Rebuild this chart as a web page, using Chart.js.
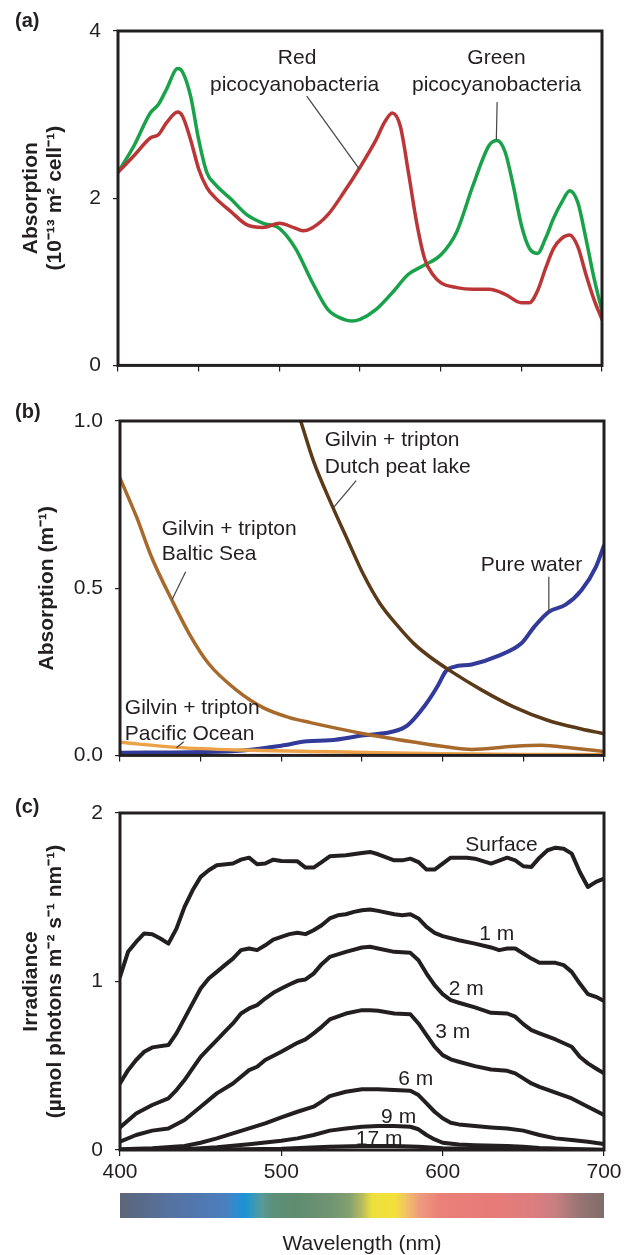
<!DOCTYPE html>
<html>
<head>
<meta charset="utf-8">
<script src="https://cdn.jsdelivr.net/npm/chart.js@4.4.1/dist/chart.umd.min.js"></script>
<style>
  html, body { margin: 0; padding: 0; background: #fff; }
  body { width: 633px; height: 1255px; position: relative; overflow: hidden; font-family: "Liberation Sans", Arial, sans-serif; }
  .panel { position: absolute; left: 0; width: 633px; }
  .tag { position: absolute; left: 15px; font-weight: bold; font-size: 20px; line-height: 20px; color: #231f20; }
</style>
</head>
<body>
<div class="panel" style="top:0px;height:390px"><canvas id="chartA" width="633" height="390"></canvas></div>
<div class="panel" style="top:390px;height:390px"><canvas id="chartB" width="633" height="390"></canvas></div>
<div class="panel" style="top:780px;height:475px"><canvas id="chartC" width="633" height="475"></canvas></div>
<div class="tag" style="top:10px">(a)</div>
<div class="tag" style="top:401px">(b)</div>
<div class="tag" style="top:796px">(c)</div>
<script>
// (a) absorption per cell, 10^-13 m2 cell-1
const greenWl = [400,410,420,425,430,437,440,445,450,455,460,470,480,490,500,510,520,530,540,545,550,560,570,580,590,600,610,620,630,635,640,645,650,655,660,665,670,675,680,685,690,695,700];
const greenAbs = [2.31,2.63,3.02,3.12,3.30,3.55,3.51,3.22,2.70,2.31,2.17,1.99,1.80,1.70,1.64,1.40,1.01,0.67,0.55,0.53,0.55,0.67,0.87,1.09,1.20,1.32,1.60,2.15,2.63,2.69,2.55,2.15,1.68,1.40,1.34,1.52,1.76,1.95,2.09,1.95,1.52,1.05,0.65];
const redWl = [400,410,420,425,430,437,440,445,450,455,460,470,480,490,500,510,515,520,530,540,550,560,565,570,575,580,585,590,595,600,610,620,630,640,650,655,660,665,670,675,680,685,690,695,700];
const redAbs = [2.31,2.51,2.72,2.76,2.90,3.03,2.98,2.70,2.35,2.13,2.01,1.84,1.68,1.65,1.70,1.64,1.61,1.64,1.80,2.07,2.37,2.70,2.90,3.02,2.86,2.31,1.72,1.28,1.09,0.99,0.93,0.91,0.91,0.85,0.75,0.75,0.89,1.16,1.40,1.52,1.56,1.42,1.09,0.79,0.55];

// (b) absorption, m-1
const dutchWl = [512,520,532,541,551,561,572,582,592,605,624,644,665,686,700];
const dutchAbs = [1.00,0.879,0.741,0.645,0.540,0.455,0.388,0.335,0.295,0.252,0.196,0.145,0.105,0.079,0.065];
const balticWl = [400,410,420,432,443,455,472,489,505,518,551,582,603,618,644,661,680,700];
const balticAbs = [0.829,0.716,0.588,0.466,0.363,0.274,0.196,0.142,0.113,0.098,0.065,0.040,0.025,0.018,0.027,0.030,0.022,0.012];
const waterWl = [400,450,476,500,516,530,551,568,578,589,597,602,607,618,634,649,657,666,676,686,695,700];
const waterAbs = [0.008,0.010,0.015,0.029,0.042,0.045,0.060,0.070,0.089,0.149,0.208,0.252,0.265,0.272,0.297,0.336,0.386,0.430,0.450,0.494,0.564,0.628];
const pacificWl = [400,435,476,518,560,600,650,700];
const pacificAbs = [0.039,0.024,0.016,0.012,0.008,0.005,0.003,0.002];

// (c) irradiance at depth, umol photons m-2 s-1 nm-1
const surfWl = [400,405,410,415,420,425,430,435,440,445,450,455,460,470,475,480,485,490,495,500,510,515,520,525,530,540,550,555,560,570,575,580,585,590,595,600,605,615,620,630,640,645,650,655,660,665,670,675,680,685,690,695,700];
const surfIrr = [1.028,1.176,1.235,1.285,1.281,1.255,1.225,1.314,1.443,1.541,1.621,1.660,1.690,1.700,1.723,1.735,1.696,1.700,1.723,1.715,1.713,1.676,1.676,1.709,1.743,1.749,1.763,1.769,1.755,1.719,1.719,1.729,1.709,1.664,1.664,1.700,1.735,1.735,1.729,1.700,1.735,1.719,1.684,1.680,1.735,1.779,1.794,1.788,1.759,1.650,1.561,1.591,1.611];
const m1Wl = [400,405,410,415,420,430,435,440,445,450,455,460,465,470,475,480,485,490,495,500,505,510,515,520,525,530,535,540,545,550,555,560,570,575,580,585,590,595,600,610,620,630,635,640,645,650,655,660,670,675,680,685,690,695,700];
const m1Irr = [0.395,0.474,0.534,0.583,0.609,0.623,0.692,0.781,0.870,0.958,1.018,1.057,1.097,1.136,1.186,1.196,1.186,1.215,1.249,1.265,1.281,1.289,1.281,1.304,1.334,1.374,1.393,1.399,1.413,1.423,1.427,1.419,1.399,1.393,1.399,1.374,1.324,1.289,1.269,1.245,1.225,1.202,1.186,1.196,1.196,1.166,1.136,1.111,1.111,1.097,1.057,0.988,0.925,0.909,0.885];
const m2Wl = [400,410,420,430,435,440,445,450,455,460,465,470,475,480,485,490,495,500,505,510,515,520,525,530,540,550,555,560,570,580,585,590,595,600,605,610,620,630,640,645,650,655,660,670,680,685,690,695,700];
const m2Irr = [0.134,0.217,0.267,0.306,0.356,0.415,0.484,0.553,0.603,0.652,0.702,0.751,0.810,0.840,0.860,0.899,0.933,0.958,0.982,1.004,1.012,1.047,1.103,1.146,1.176,1.202,1.206,1.196,1.176,1.170,1.126,1.047,0.978,0.925,0.889,0.874,0.846,0.814,0.810,0.791,0.747,0.711,0.692,0.656,0.613,0.553,0.514,0.484,0.455];
const m3Wl = [400,410,420,430,440,450,460,470,480,485,490,500,510,515,520,525,530,540,550,555,560,570,580,585,590,595,600,605,610,620,630,640,645,650,655,660,670,680,690,700];
const m3Irr = [0.049,0.089,0.115,0.128,0.178,0.257,0.336,0.395,0.474,0.494,0.534,0.583,0.636,0.656,0.692,0.731,0.775,0.810,0.830,0.830,0.826,0.810,0.806,0.751,0.682,0.613,0.563,0.538,0.524,0.498,0.478,0.470,0.455,0.425,0.395,0.375,0.340,0.306,0.257,0.208];
const m6Wl = [400,420,440,450,460,470,480,490,500,510,520,525,530,540,550,560,570,580,585,590,595,600,605,610,620,630,640,650,660,670,680,690,700];
const m6Irr = [0.004,0.010,0.024,0.043,0.069,0.099,0.128,0.158,0.194,0.227,0.257,0.287,0.320,0.346,0.360,0.360,0.356,0.352,0.326,0.277,0.227,0.188,0.162,0.152,0.142,0.134,0.128,0.115,0.089,0.069,0.059,0.049,0.036];
const m9Wl = [400,440,460,480,500,510,520,530,540,550,560,570,580,585,590,595,600,610,620,640,650,660,680,700];
const m9Irr = [0.000,0.004,0.016,0.034,0.055,0.069,0.089,0.115,0.128,0.138,0.142,0.142,0.138,0.123,0.089,0.063,0.043,0.032,0.028,0.024,0.020,0.012,0.006,0.002];
const m17Wl = [400,450,500,530,550,570,585,600,650,700];
const m17Irr = [0.000,0.002,0.008,0.020,0.024,0.024,0.020,0.010,0.004,0.000];

const ink = '#231f20';
const family = '"Liberation Sans", Arial, Helvetica, sans-serif';

// colour strip under the wavelength axis (wavelength, colour)
const spectrumStops = [[400,'#5d6679'],[415,'#596b8c'],[430,'#5672a0'],[450,'#5078b0'],[465,'#4a7fbe'],[472,'#2f8ccf'],[477,'#1b93d3'],[482,'#3598bf'],[488,'#5a9a98'],[495,'#5b9078'],[510,'#5f8c70'],[530,'#6f9472'],[542,'#84a070'],[550,'#b5bb5e'],[556,'#ecdf3c'],[570,'#f4e13a'],[577,'#f2c464'],[585,'#ee9e7c'],[598,'#ea8078'],[630,'#e87b78'],[655,'#de7d7e'],[670,'#c87f80'],[685,'#977473'],[700,'#7e6d6c']];

function pts(xs, ys) {
    return xs.map((x, i) => ({x: x, y: ys[i]}));
}

function series(label, xs, ys, color, smooth, width) {
    return {
        label: label,
        data: pts(xs, ys),
        borderColor: color,
        borderWidth: width,
        pointRadius: 0,
        fill: false,
        tension: smooth ? 0.4 : 0,
        cubicInterpolationMode: smooth ? 'monotone' : 'default',
        borderJoinStyle: 'round',
        borderCapStyle: 'round'
    };
}

const framePlugin = {
    id: 'frame',
    afterDraw(chart) {
        const a = chart.chartArea, ctx = chart.ctx;
        ctx.save();
        ctx.lineWidth = 3;
        ctx.strokeStyle = ink;
        ctx.strokeRect(a.left, a.top, a.right - a.left, a.bottom - a.top);
        ctx.restore();
    }
};

// text labels and leader lines placed in data units
function notes(labels, leaders) {
    return {
        id: 'notes',
        afterDatasetsDraw(chart) {
            const ctx = chart.ctx, x = chart.scales.x, y = chart.scales.y;
            ctx.save();
            ctx.strokeStyle = '#444';
            ctx.lineWidth = 1.2;
            leaders.forEach(l => {
                ctx.beginPath();
                ctx.moveTo(x.getPixelForValue(l[0]), y.getPixelForValue(l[1]));
                ctx.lineTo(x.getPixelForValue(l[2]), y.getPixelForValue(l[3]));
                ctx.stroke();
            });
            ctx.fillStyle = ink;
            ctx.font = '21px ' + family;
            ctx.textBaseline = 'alphabetic';
            labels.forEach(l => {
                ctx.textAlign = l.align || 'center';
                ctx.fillText(l.text, x.getPixelForValue(l.x), y.getPixelForValue(l.y));
            });
            ctx.restore();
        }
    };
}

const spectrumPlugin = {
    id: 'spectrum',
    afterDraw(chart) {
        const ctx = chart.ctx, a = chart.chartArea, x = chart.scales.x;
        const x0 = x.getPixelForValue(400), x1 = x.getPixelForValue(700);
        const g = ctx.createLinearGradient(x0, 0, x1, 0);
        spectrumStops.forEach(s => g.addColorStop((s[0] - 400) / 300, s[1]));
        ctx.save();
        ctx.fillStyle = g;
        ctx.fillRect(x0, a.bottom + 43, x1 - x0, 25);
        ctx.restore();
    }
};

function xAxis(step, labels, height, title) {
    return {
        type: 'linear', min: 400, max: 700,
        ticks: {stepSize: step, display: labels, color: ink, font: {family: family, size: 21}, padding: 4, maxRotation: 0, autoSkip: false},
        grid: {drawOnChartArea: false, tickLength: 6, color: ink, lineWidth: 1.2},
        border: {display: false},
        title: {display: !!title, text: title || '', color: ink, font: {family: family, size: 21, lineHeight: 1}, padding: {top: 0, bottom: 0}},
        afterFit(s) { s.height = height; }
    };
}

function yAxis(min, max, step, title, pad, width, fmt) {
    return {
        min: min, max: max,
        ticks: {stepSize: step, color: ink, font: {family: family, size: 21}, padding: 12, callback: fmt},
        grid: {drawOnChartArea: false, tickLength: 5, color: ink, lineWidth: 1.2},
        border: {display: false},
        title: {display: true, text: title, color: ink, font: {family: family, size: 21, weight: 'bold', lineHeight: 1.15}, padding: {top: pad, bottom: 0}},
        afterFit(s) { s.width = width; }
    };
}

function baseOptions(pad, scales) {
    return {
        responsive: false,
        animation: false,
        layout: {padding: pad},
        plugins: {legend: {display: false}, tooltip: {enabled: false}},
        scales: scales
    };
}

document.addEventListener('DOMContentLoaded', function() {
    // (a) red and green picocyanobacteria
    new Chart(document.getElementById('chartA').getContext('2d'), {
        type: 'line',
        data: {datasets: [
            series('Red picocyanobacteria', redWl, redAbs, '#bb3636', true, 3.5),
            series('Green picocyanobacteria', greenWl, greenAbs, '#19a24a', true, 3.5)
        ]},
        options: baseOptions({top: 31, right: 31, left: 0, bottom: 0}, {
            x: xAxis(50, false, 22),
            y: yAxis(0, 4, 2, ['Absorption', '(10\u207B\u00B9\u00B3 m\u00B2 cell\u207B\u00B9)'], 19, 118)
        }),
        plugins: [notes([
            {text: 'Red', x: 511, y: 3.60},
            {text: 'picocyanobacteria', x: 509.5, y: 3.28},
            {text: 'Green', x: 634.6, y: 3.60},
            {text: 'picocyanobacteria', x: 634.7, y: 3.28}
        ], [[517, 3.22, 549.5, 2.35], [635, 3.15, 634.5, 2.70]]), framePlugin]
    });

    // (b) water, gilvin and tripton absorption
    new Chart(document.getElementById('chartB').getContext('2d'), {
        type: 'line',
        data: {datasets: [
            series('Pacific Ocean', pacificWl, pacificAbs, '#eba248', true, 3.5),
            series('Baltic Sea', balticWl, balticAbs, '#a8692c', true, 3.5),
            series('Dutch peat lake', dutchWl, dutchAbs, '#5a3a18', true, 3.5),
            series('Pure water', waterWl, waterAbs, '#323a9a', true, 4)
        ]},
        options: baseOptions({top: 31, right: 29, left: 0, bottom: 0}, {
            x: xAxis(50, false, 22),
            y: yAxis(0, 1, 0.5, 'Absorption (m\u207B\u00B9)', 35, 120, v => v.toFixed(1))
        }),
        plugins: [notes([
            {text: 'Gilvin + tripton', x: 526.9, y: 0.924, align: 'left'},
            {text: 'Dutch peat lake', x: 526.9, y: 0.845, align: 'left'},
            {text: 'Gilvin + tripton', x: 425.9, y: 0.659, align: 'left'},
            {text: 'Baltic Sea', x: 425.9, y: 0.583, align: 'left'},
            {text: 'Pure water', x: 623.6, y: 0.551, align: 'left'},
            {text: 'Gilvin + tripton', x: 403, y: 0.123, align: 'left'},
            {text: 'Pacific Ocean', x: 403, y: 0.047, align: 'left'}
        ], [[546.4, 0.822, 532.3, 0.741], [440.7, 0.549, 432.3, 0.466], [665.8, 0.534, 665.8, 0.430], [439.5, 0.041, 435, 0.023]]), framePlugin]
    });

    // (c) irradiance with depth
    new Chart(document.getElementById('chartC').getContext('2d'), {
        type: 'line',
        data: {datasets: [
            series('Surface', surfWl, surfIrr, ink, false, 4),
            series('1 m', m1Wl, m1Irr, ink, false, 4),
            series('2 m', m2Wl, m2Irr, ink, false, 4),
            series('3 m', m3Wl, m3Irr, ink, false, 4),
            series('6 m', m6Wl, m6Irr, ink, false, 4),
            series('9 m', m9Wl, m9Irr, ink, false, 4),
            series('17 m', m17Wl, m17Irr, ink, false, 4)
        ]},
        options: baseOptions({top: 33, right: 29, left: 0, bottom: 0}, {
            x: xAxis(100, true, 105, 'Wavelength (nm)'),
            y: yAxis(0, 2, 1, ['Irradiance', '(\u00B5mol photons m\u207B\u00B2 s\u207B\u00B9 nm\u207B\u00B9)'], 19, 120)
        }),
        plugins: [notes([
            {text: 'Surface', x: 636.5, y: 1.775},
            {text: '1 m', x: 633.5, y: 1.245},
            {text: '2 m', x: 614.6, y: 0.920},
            {text: '3 m', x: 606.2, y: 0.663},
            {text: '6 m', x: 583.3, y: 0.386},
            {text: '9 m', x: 572.7, y: 0.158},
            {text: '17 m', x: 560.6, y: 0.030}
        ], []), spectrumPlugin, framePlugin]
    });
});
</script>
</body>
</html>
